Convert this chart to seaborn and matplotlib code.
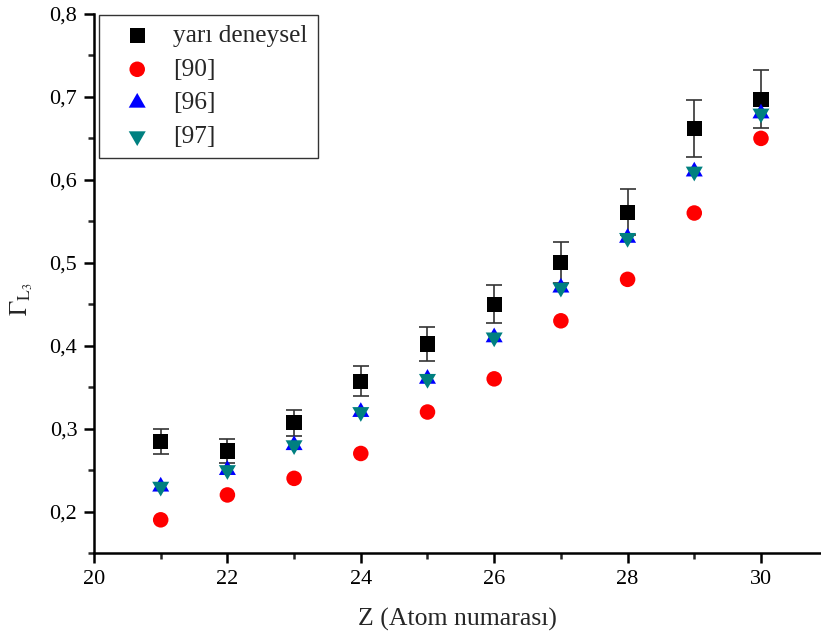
import numpy as np
import pandas as pd
import matplotlib
matplotlib.use('Agg')
import matplotlib.pyplot as plt
from matplotlib.ticker import MultipleLocator, FuncFormatter
import seaborn as sns

sns.set_theme(style='ticks')
plt.rcParams['font.family'] = ['Liberation Serif', 'DejaVu Serif']
plt.rcParams['mathtext.fontset'] = 'stix'

Z = [21, 22, 23, 24, 25, 26, 27, 28, 29, 30]
yari_deneysel = [0.284, 0.273, 0.307, 0.357, 0.402, 0.450, 0.500, 0.561, 0.662, 0.697]
yari_hata = [0.015, 0.014, 0.016, 0.018, 0.021, 0.023, 0.025, 0.028, 0.034, 0.035]
ref90 = [0.19, 0.22, 0.24, 0.27, 0.32, 0.36, 0.43, 0.48, 0.56, 0.65]
ref96 = [0.23, 0.25, 0.28, 0.32, 0.36, 0.41, 0.47, 0.53, 0.61, 0.68]
ref97 = [0.23, 0.25, 0.28, 0.32, 0.36, 0.41, 0.47, 0.53, 0.61, 0.68]

# triangles centred on their centroid so the two overlap like a star
ucgen_yukari = [(0, 1), (-0.866, -0.5), (0.866, -0.5), (0, 1)]
ucgen_asagi = [(0, -1), (-0.866, 0.5), (0.866, 0.5), (0, -1)]

fig = plt.figure(figsize=(8.21, 6.39), dpi=100)
ax = fig.add_axes([0.1145, 0.1346, 0.8855, 0.8435])

ax.errorbar(Z, yari_deneysel, yerr=yari_hata, fmt='none', ecolor='#333333',
            elinewidth=1.2, capsize=6, capthick=1.2, zorder=1)
sns.scatterplot(x=Z, y=yari_deneysel, marker='s', color='black', s=120,
                edgecolor='none', label='yarı deneysel', ax=ax, zorder=3)
sns.scatterplot(x=Z, y=ref90, marker='o', color='red', s=125,
                edgecolor='none', label='[90]', ax=ax, zorder=3)
sns.scatterplot(x=Z, y=ref96, marker=ucgen_yukari, color='blue', s=200,
                edgecolor='none', label='[96]', ax=ax, zorder=3)
sns.scatterplot(x=Z, y=ref97, marker=ucgen_asagi, color='#008080', s=200,
                edgecolor='none', label='[97]', ax=ax, zorder=4)

ax.set_xlim(20, 30.9)
ax.set_ylim(0.15, 0.8)
ax.xaxis.set_major_locator(MultipleLocator(2))
ax.xaxis.set_minor_locator(MultipleLocator(1))
ax.yaxis.set_major_locator(MultipleLocator(0.1))
ax.yaxis.set_minor_locator(MultipleLocator(0.05))
ax.yaxis.set_major_formatter(FuncFormatter(lambda v, p: f'{v:.1f}'.replace('.', ',')))
ax.tick_params(which='major', direction='out', length=7, width=1.8, labelsize=16,
               colors='black', pad=5)
ax.tick_params(which='minor', direction='out', length=4, width=1.8)
for side in ['top', 'right']:
    ax.spines[side].set_visible(False)
for side in ['left', 'bottom']:
    ax.spines[side].set_linewidth(1.8)
    ax.spines[side].set_color('black')

ax.set_xlabel('Z (Atom numarası)', fontsize=18.5, labelpad=14)
ax.set_ylabel(r'$\Gamma_{\mathrm{L}_3}$', fontsize=18, va='center')
ax.yaxis.set_label_coords(-0.1, 0.47)

leg = ax.legend(loc='upper left', bbox_to_anchor=(0.007, 0.999), borderaxespad=0,
                fontsize=18.3, frameon=True, fancybox=False, edgecolor='black',
                borderpad=0.4, labelspacing=0.42, handlelength=2.2, handletextpad=0.31)
leg.get_frame().set_linewidth(1.0)

fig.savefig('out.png', dpi=100)
